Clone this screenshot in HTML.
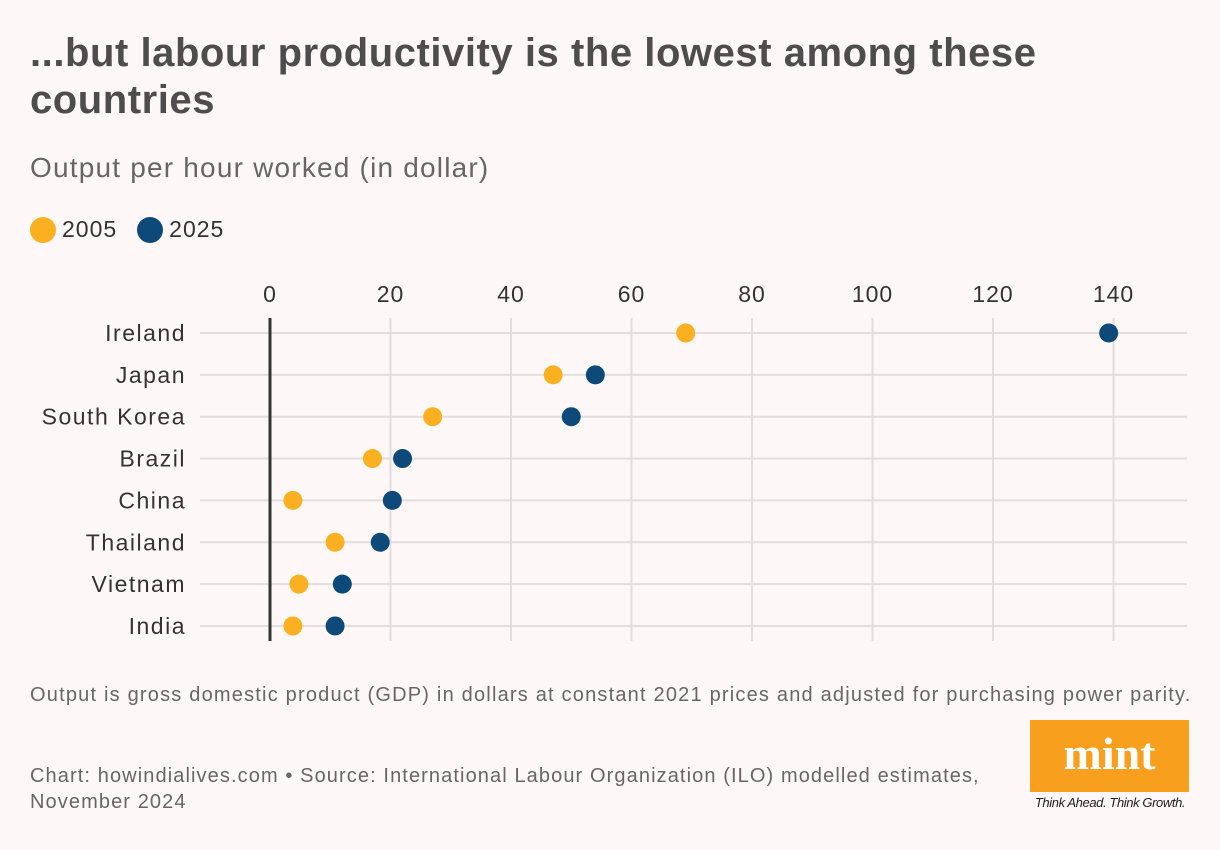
<!DOCTYPE html>
<html><head><meta charset="utf-8"><style>
body{margin:0;width:1220px;height:850px;background:#fdf8f7;font-family:"Liberation Sans",sans-serif;position:relative;overflow:hidden}
.t{position:absolute;margin:0}
</style></head><body>
<h1 class="t" style="left:30px;top:30px;font-size:40px;line-height:47px;font-weight:bold;color:#4d4d4d;letter-spacing:0.55px">...but labour productivity is the lowest among these<br>countries</h1>
<div class="t" style="left:30px;top:152px;font-size:28px;color:#666;letter-spacing:1.2px">Output per hour worked (in dollar)</div>
<div class="t" style="left:30px;top:216px;font-size:23px;color:#333;display:flex;align-items:center;letter-spacing:1px">
 <span style="display:flex;align-items:center"><span style="width:26px;height:26px;border-radius:50%;background:#fbb022;display:inline-block;margin-right:6px"></span>2005</span>
 <span style="display:flex;align-items:center;margin-left:20px"><span style="width:26px;height:26px;border-radius:50%;background:#0d4a7a;display:inline-block;margin-right:6px"></span>2025</span>
</div>
<svg id="chart" width="1220" height="850" style="position:absolute;left:0;top:0"></svg>
<div class="t" style="left:30px;top:684px;font-size:20px;color:#666;letter-spacing:1.2px">Output is gross domestic product (GDP) in dollars at constant 2021 prices and adjusted for purchasing power parity.</div>
<div class="t" style="left:30px;top:763px;font-size:20px;line-height:26px;color:#666;letter-spacing:1.1px">Chart: howindialives.com • Source: International Labour Organization (ILO) modelled estimates,<br>November 2024</div>
<div class="t" style="left:1030px;top:720px;width:159px;height:72px;background:#f89f1e;color:#fff;font-family:'Liberation Serif',serif;font-weight:bold;font-size:46px;text-align:center;line-height:68px">mint</div>
<div class="t" style="left:1030px;top:795px;width:160px;font-size:13px;font-style:italic;color:#222;text-align:center;letter-spacing:-0.4px">Think Ahead. Think Growth.</div>
<script>
const categories=["Ireland","Japan","South Korea","Brazil","China","Thailand","Vietnam","India"];
const values2005=[69,47,27,17,3.8,10.8,4.8,3.8];
const values2025=[139.2,54,50,22,20.3,18.3,12,10.8];
const ticks=[0,20,40,60,80,100,120,140];
const ns="http://www.w3.org/2000/svg",svg=document.getElementById('chart');
const x=v=>270+v*6.025, y=i=>333+i*41.85;
function mk(t,a){const e=document.createElementNS(ns,t);for(const k in a)e.setAttribute(k,a[k]);svg.appendChild(e);return e;}
ticks.forEach(t=>{
 if(t>0){const g=mk('line',{x1:x(t),x2:x(t),y1:318,y2:641,stroke:'#e2dede','stroke-width':2});
 
 }
 const l=mk('text',{x:x(t),y:302,'text-anchor':'middle','font-size':23,fill:'#333','font-family':'Liberation Sans','letter-spacing':1});
 l.textContent=t;
 
 
});
categories.forEach((c,i)=>{
 const g=mk('line',{x1:200,x2:1187,y1:y(i),y2:y(i),stroke:'#e2dede','stroke-width':2});
 
 
 const l=mk('text',{x:186,y:y(i)+8,'text-anchor':'end','font-size':23,fill:'#333','font-family':'Liberation Sans','letter-spacing':1.5});
 l.textContent=c;
 
 
});
const z=mk('line',{x1:x(0),x2:x(0),y1:318,y2:641,stroke:'#333','stroke-width':3});


categories.forEach((c,i)=>{
 const a=mk('circle',{cx:x(values2005[i]),cy:y(i),r:9.5,fill:'#fbb022'});
 
 
 const b=mk('circle',{cx:x(values2025[i]),cy:y(i),r:9.5,fill:'#0d4a7a'});
 
 
});
</script>
</body></html>
